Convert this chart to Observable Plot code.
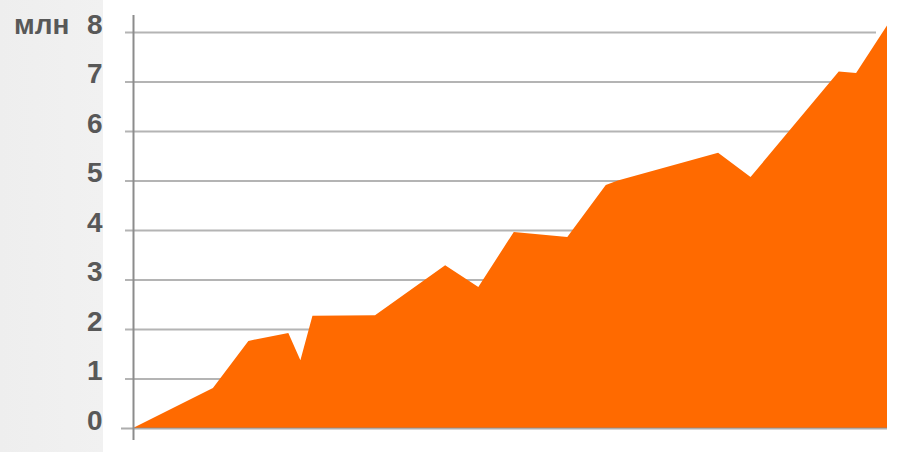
<!DOCTYPE html>
<html>
<head>
<meta charset="utf-8">
<script src="https://cdn.jsdelivr.net/npm/d3@7"></script>
<script src="https://cdn.jsdelivr.net/npm/@observablehq/plot@0.6"></script>
<style>
  html, body { margin: 0; padding: 0; }
  body { width: 905px; height: 452px; background: linear-gradient(to right, #eeeeee 0px, #f1f1f1 103px, #ffffff 103px); overflow: hidden; position: relative; }
  #chart svg { display: block; background: transparent; max-width: none !important; width: 905px; height: 452px; }
  #chart { position: absolute; left: 0; top: 0; }
</style>
</head>
<body>
<div id="chart"></div>
<script>
// Position along the time axis (0–100, no labels shown) and value in millions
const positions = [0, 10.6, 15.3, 20.6, 22.2, 23.8, 32.1, 41.4, 45.8, 50.5, 57.6, 62.7, 64.3, 77.6, 81.9, 93.6, 95.9, 100];
const values    = [0, 0.81, 1.76, 1.92, 1.37, 2.27, 2.28, 3.29, 2.85, 3.96, 3.86, 4.91, 5.0, 5.56, 5.07, 7.20, 7.17, 8.13];
const yTicks = [0, 1, 2, 3, 4, 5, 6, 7, 8];
const unitLabel = "млн";

const data = positions.map((t, i) => ({t, v: values[i]}));

const fontFamily = "Liberation Sans, Arial, sans-serif";

const chart = Plot.plot({
  width: 905, height: 452,
  marginLeft: 133, marginRight: 18, marginTop: 32, marginBottom: 24,
  style: {fontFamily, background: "transparent", overflow: "visible", maxWidth: "none"},
  x: {domain: [0, 100], axis: null},
  y: {domain: [0, 8], axis: null},
  marks: [
    Plot.ruleY(yTicks.filter(d => d > 0), {stroke: "#b4b4b4", strokeWidth: 2, insetLeft: -8, insetRight: 11}),
    Plot.areaY(data, {x: "t", y: "v", fill: "#ff6a00", curve: "linear"}),
    Plot.ruleY([0], {stroke: "#8a8a8a", strokeWidth: 2, strokeOpacity: 0.7, insetLeft: -12, insetRight: 0}),
    Plot.ruleX([0], {stroke: "#8c8c8c", strokeWidth: 2, insetTop: -17, insetBottom: -12}),
    Plot.text(yTicks, {
      y: d => d, text: d => String(d), frameAnchor: "left", textAnchor: "end",
      lineAnchor: "bottom", dx: -31, dy: 1, fontSize: 28, fontWeight: "bold", fill: "#585858"
    }),
    Plot.text([8], {
      y: d => d, text: () => unitLabel, frameAnchor: "left", textAnchor: "end",
      lineAnchor: "bottom", dx: -64, dy: 1, fontSize: 28, fontWeight: "bold", fill: "#585858"
    })
  ]
});
document.getElementById("chart").append(chart);
</script>
</body>
</html>
